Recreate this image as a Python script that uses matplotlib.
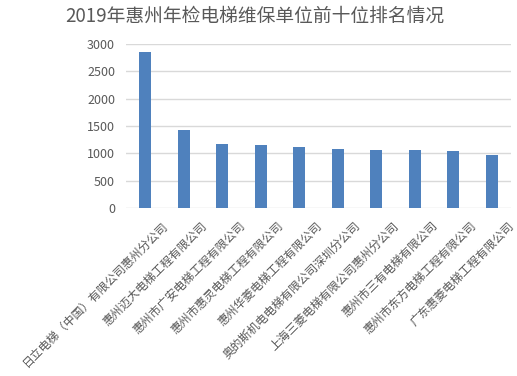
import matplotlib
matplotlib.use("Agg")
import matplotlib.pyplot as plt
from matplotlib.transforms import ScaledTranslation

plt.rcParams['font.family'] = ['Noto Sans CJK SC', 'DejaVu Sans']

categories = [
    "日立电梯（中国）有限公司惠州分公司",
    "惠州迈大电梯工程有限公司",
    "惠州市广安电梯工程有限公司",
    "惠州市惠灵电梯工程有限公司",
    "惠州华菱电梯工程有限公司",
    "奥的斯机电电梯有限公司深圳分公司",
    "上海三菱电梯有限公司惠州分公司",
    "惠州市三有电梯有限公司",
    "惠州市东方电梯工程有限公司",
    "广东惠菱电梯工程有限公司",
]
values = [2860, 1433, 1177, 1159, 1122, 1085, 1067, 1067, 1049, 976]
yticks = [0, 500, 1000, 1500, 2000, 2500, 3000]
title = "2019年惠州年检电梯维保单位前十位排名情况"

fig = plt.figure(figsize=(5.17, 3.76), dpi=100)
ax = fig.add_axes([0.244, 0.447, 0.744, 0.436])
x = list(range(len(categories)))
ax.bar(x, values, width=0.31, color="#4f81bd", zorder=3)
ax.set_xlim(-0.5, len(categories) - 0.5)
ax.set_ylim(0, 3000)
ax.set_yticks(yticks)
ax.set_yticklabels([str(v) for v in yticks], fontsize=9, color="#595959")
ax.yaxis.grid(True, color="#d9d9d9", linewidth=1, zorder=0)
ax.set_axisbelow(True)
for s in ax.spines.values():
    s.set_visible(False)
ax.tick_params(axis='y', length=0, pad=8)
ax.tick_params(axis='x', length=0, pad=3)
ax.set_xticks(x)
ax.set_xticklabels(categories, rotation=45, ha='right', rotation_mode='anchor',
                   fontsize=8.5, color="#595959")
offset = ScaledTranslation(16 / 100, -7 / 100, fig.dpi_scale_trans)
for lbl in ax.get_xticklabels():
    lbl.set_transform(lbl.get_transform() + offset)
fig.text(0.492, 0.958, title, ha='center', va='center', fontsize=13.5, color="#595959")
fig.savefig("out.png", dpi=100)
